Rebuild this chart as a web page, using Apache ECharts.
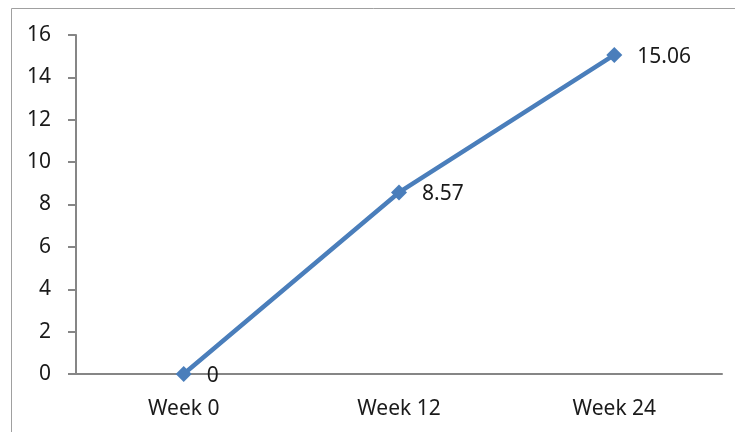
<!DOCTYPE html>
<html>
<head>
<meta charset="utf-8">
<script src="https://cdn.jsdelivr.net/npm/echarts@6/dist/echarts.min.js"></script>
<style>
  html, body { margin: 0; padding: 0; background: #fff; }
  #chart { width: 735px; height: 432px; }
</style>
</head>
<body>
<div id="chart"></div>
<script>
// Weekly change values
const categories = ['Week 0', 'Week 12', 'Week 24'];
const values = [0, 8.57, 15.06];
const yTicks = { min: 0, max: 16, interval: 2 };

const textFont = '"Noto Sans", "DejaVu Sans", sans-serif';
const chart = echarts.init(document.getElementById('chart'), null, { renderer: 'canvas' });

chart.setOption({
  animation: false,
  backgroundColor: '#ffffff',
  graphic: [{
    type: 'rect',
    shape: { x: 11.5, y: 8.5, width: 800, height: 500 },
    style: { fill: 'none', stroke: '#a0a0a0', lineWidth: 1 },
    silent: true
  }],
  grid: { left: 76, right: 13, top: 35, bottom: 58 },
  xAxis: {
    type: 'category',
    data: categories,
    boundaryGap: true,
    axisLine: { lineStyle: { color: '#868686', width: 2 } },
    axisTick: { show: false },
    axisLabel: { color: '#1a1a1a', fontSize: 21, fontFamily: textFont, margin: 25 }
  },
  yAxis: {
    type: 'value',
    min: yTicks.min, max: yTicks.max, interval: yTicks.interval,
    axisLine: { show: true, lineStyle: { color: '#868686', width: 2 } },
    axisTick: { show: true, length: 8, lineStyle: { color: '#868686', width: 2 } },
    splitLine: { show: false },
    axisLabel: { color: '#1a1a1a', fontSize: 21, fontFamily: textFont, margin: 25 }
  },
  series: [{
    type: 'line',
    data: values,
    symbol: 'diamond',
    symbolSize: 16,
    lineStyle: { color: '#4a7ebb', width: 4.5 },
    itemStyle: { color: '#4a7ebb' },
    label: {
      show: true,
      position: 'right',
      distance: 15,
      color: '#1a1a1a',
      fontSize: 21,
      fontFamily: textFont,
      offset: [0, 2]
    }
  }]
});
</script>
</body>
</html>
